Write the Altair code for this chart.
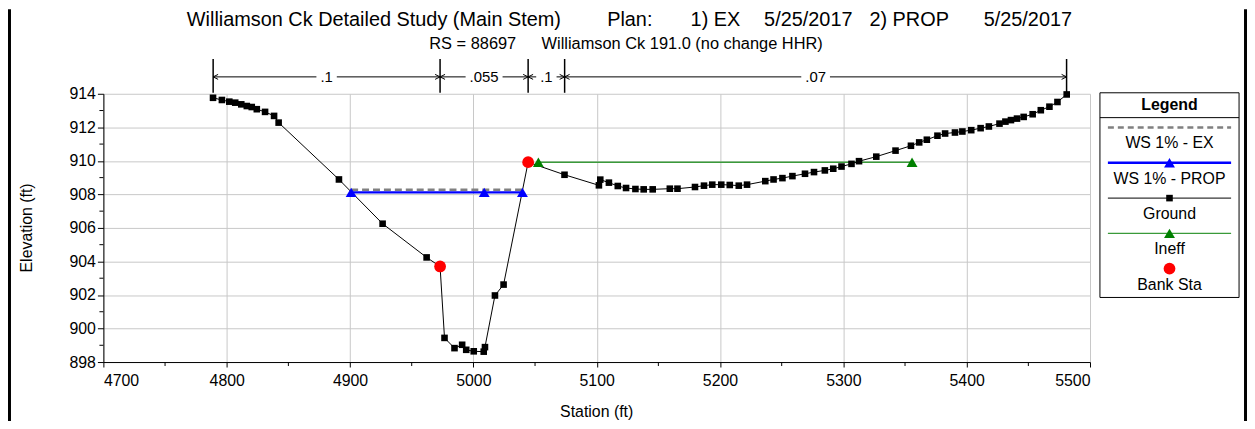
import altair as alt
import pandas as pd

# ---------------- data ----------------
ground_sta = [4788.9, 4796.1, 4802.1, 4806.9, 4811.8, 4816.3, 4820.3, 4824.4, 4831.1, 4838.4,
              4842.1, 4891.0, 4926.4, 4962.1, 4973.0, 4976.6, 4984.7, 4990.9, 4994.2, 5000.3,
              5008.4, 5009.4, 5017.5, 5024.5, 5044.4, 5073.9, 5101.8, 5102.9, 5109.9, 5117.1,
              5123.8, 5131.4, 5138.1, 5145.4, 5159.3, 5165.5, 5179.7, 5187.0, 5193.7, 5201.0,
              5207.9, 5215.2, 5221.9, 5236.7, 5243.4, 5250.6, 5258.7, 5268.9, 5276.2, 5285.0,
              5291.8, 5298.5, 5306.6, 5312.7, 5326.7, 5342.3, 5354.8, 5361.5, 5367.7, 5376.3,
              5382.5, 5390.5, 5396.5, 5403.7, 5411.3, 5418.0, 5426.6, 5431.4, 5435.9, 5440.8,
              5446.2, 5453.5, 5460.1, 5467.1, 5473.6, 5481.1]
ground_elev = [913.76, 913.63, 913.53, 913.47, 913.37, 913.27, 913.21, 913.08, 912.92, 912.68,
               912.28, 908.89, 906.25, 904.24, 903.70, 899.44, 898.83, 899.03, 898.73, 898.64,
               898.62, 898.89, 901.97, 902.62, 909.92, 909.17, 908.54, 908.88, 908.70, 908.50,
               908.38, 908.32, 908.30, 908.30, 908.34, 908.34, 908.44, 908.52, 908.58, 908.58,
               908.56, 908.52, 908.58, 908.79, 908.89, 908.97, 909.09, 909.23, 909.33, 909.43,
               909.53, 909.66, 909.82, 909.98, 910.25, 910.61, 910.90, 911.10, 911.26, 911.50,
               911.63, 911.69, 911.75, 911.83, 911.95, 912.05, 912.22, 912.34, 912.43, 912.52,
               912.62, 912.78, 913.02, 913.23, 913.51, 913.96]
ws_ex_sta = [4900.9, 5040.0]
ws_ex_elev = [908.28, 908.28]
ws_prop_sta = [4900.9, 5008.8, 5039.8]
ws_prop_elev = [908.12, 908.12, 908.12]
ineff_sta = [5052.7, 5355.7]
ineff_elev = [909.92, 909.92]
bank_sta = [4973.0, 5044.4]
bank_elev = [903.70, 909.92]
n_bounds = [4789.0, 4973.0, 5044.4, 5074.0, 5481.0]
n_values = [".1", ".055", ".1", ".07"]
x_ticks = [4700, 4800, 4900, 5000, 5100, 5200, 5300, 5400, 5500]
x_minor = [4750, 4850, 4950, 5050, 5150, 5250, 5350, 5450]
y_ticks = [898, 900, 902, 904, 906, 908, 910, 912, 914]
y_minor = [899, 901, 903, 905, 907, 909, 911, 913]
legend_labels = ["WS 1% - EX", "WS 1% - PROP", "Ground", "Ineff", "Bank Sta"]
title_parts = ["Williamson Ck Detailed Study (Main Stem)", "Plan:", "1) EX", "5/25/2017",
               "2) PROP", "5/25/2017"]
subtitle_parts = ["RS = 88697", "Williamson Ck 191.0 (no change HHR)"]
x_title = "Station (ft)"
y_title = "Elevation (ft)"

# ---------------- layout ----------------
W, H = 993, 270
FONT = "Liberation Sans, Arial, sans-serif"
xs = alt.Scale(domain=[4700, 5500], nice=False, zero=False)
ys = alt.Scale(domain=[898, 914], nice=False, zero=False)
x_axis = alt.Axis(values=x_ticks, format="d", title=None, grid=True, tickSize=5,
                  labelPadding=6, labelFontSize=16)
y_axis = alt.Axis(values=y_ticks, format="d", title=None, grid=True, tickSize=6,
                  labelPadding=2, labelFontSize=16)


def X(field="sta"):
    return alt.X(f"{field}:Q", scale=xs, axis=x_axis)


def Y(field="elev"):
    return alt.Y(f"{field}:Q", scale=ys, axis=y_axis)


ground = pd.DataFrame({"sta": ground_sta, "elev": ground_elev})
ws_ex = pd.DataFrame({"sta": ws_ex_sta, "elev": ws_ex_elev})
ws_prop = pd.DataFrame({"sta": ws_prop_sta, "elev": ws_prop_elev})
ineff = pd.DataFrame({"sta": ineff_sta, "elev": ineff_elev})
bank = pd.DataFrame({"sta": bank_sta, "elev": bank_elev})
dummy = pd.DataFrame({"k": [0]})

BLUE = "#0000ff"
GRAY = "#808080"
GREEN_LINE = "#3a9a3a"
GREEN = "#008000"
RED = "#ff0000"
SQ, TRI, DOT = 44, 120, 140

layers = []

# minor ticks
layers.append(alt.Chart(pd.DataFrame({"elev": y_minor})).mark_rule(color="black", strokeWidth=1)
              .encode(y=Y(), x=alt.value(-4), x2=alt.value(0)))
layers.append(alt.Chart(pd.DataFrame({"sta": x_minor})).mark_rule(color="black", strokeWidth=1)
              .encode(x=X(), y=alt.value(H), y2=alt.value(H + 4)))

# series
layers.append(alt.Chart(ws_ex).mark_line(color=GRAY, strokeWidth=2.5, strokeDash=[7, 4])
              .encode(x=X(), y=Y()))
layers.append(alt.Chart(ineff).mark_line(color=GREEN_LINE, strokeWidth=1.5).encode(x=X(), y=Y()))
layers.append(alt.Chart(ground).mark_line(color="black", strokeWidth=1).encode(x=X(), y=Y()))
layers.append(alt.Chart(ground).mark_point(shape="square", filled=True, color="black", size=SQ, opacity=1)
              .encode(x=X(), y=Y()))
layers.append(alt.Chart(ws_prop).mark_line(color=BLUE, strokeWidth=2.5).encode(x=X(), y=Y()))
layers.append(alt.Chart(ws_prop).mark_point(shape="triangle-up", filled=True, color=BLUE, size=TRI, opacity=1)
              .encode(x=X(), y=Y()))
layers.append(alt.Chart(ineff).mark_point(shape="triangle-up", filled=True, color=GREEN, size=TRI, opacity=1)
              .encode(x=X(), y=Y()))
layers.append(alt.Chart(bank).mark_point(shape="circle", filled=True, color=RED, size=DOT, opacity=1)
              .encode(x=X(), y=Y()))

# Manning's n brackets above the plot
PX_PER_FT = W / 800.0
seg_start = n_bounds[:-1]
seg_end = n_bounds[1:]
seg_mid = [(a + b) / 2 for a, b in zip(seg_start, seg_end)]
half_gap = [(15 * (0.278 * s.count(".") + 0.556 * (len(s) - s.count("."))) / 2 + 4) / PX_PER_FT
            for s in n_values]
left_parts = pd.DataFrame({"sta": seg_start, "sta2": [m - g for m, g in zip(seg_mid, half_gap)]})
right_parts = pd.DataFrame({"sta": [m + g for m, g in zip(seg_mid, half_gap)], "sta2": seg_end})
BR_Y = -17
layers.append(alt.Chart(pd.DataFrame({"sta": n_bounds})).mark_rule(color="black", strokeWidth=1.5)
              .encode(x=X(), y=alt.value(-35), y2=alt.value(-1)))
for part in (left_parts, right_parts):
    layers.append(alt.Chart(part).mark_rule(color="black", strokeWidth=1)
                  .encode(x=X(), x2="sta2:Q", y=alt.value(BR_Y)))
layers.append(alt.Chart(pd.DataFrame({"sta": seg_start}))
              .mark_point(shape="M0,0L2,-1M0,0L2,1", filled=False, color="black", size=25,
                          strokeWidth=1, opacity=1)
              .encode(x=X(), y=alt.value(BR_Y)))
layers.append(alt.Chart(pd.DataFrame({"sta": seg_end}))
              .mark_point(shape="M0,0L-2,-1M0,0L-2,1", filled=False, color="black", size=25,
                          strokeWidth=1, opacity=1)
              .encode(x=X(), y=alt.value(BR_Y)))
layers.append(alt.Chart(pd.DataFrame({"sta": seg_mid, "lab": n_values}))
              .mark_text(fontSize=15, font=FONT, color="black", baseline="middle")
              .encode(x=X(), y=alt.value(BR_Y), text="lab:N"))

# titles
title_x = [84, 507, 591, 665, 771, 886]
for t, xv in zip(title_parts, title_x):
    layers.append(alt.Chart(dummy).mark_text(fontSize=20, font=FONT, align="left", baseline="middle",
                                             color="black", text=t)
                  .encode(x=alt.value(xv), y=alt.value(-74)))
sub_x = [328, 441]
for t, xv in zip(subtitle_parts, sub_x):
    layers.append(alt.Chart(dummy).mark_text(fontSize=16.5, font=FONT, align="left", baseline="middle",
                                             color="black", text=t)
                  .encode(x=alt.value(xv), y=alt.value(-50)))
layers.append(alt.Chart(dummy).mark_text(fontSize=16, font=FONT, align="center", baseline="middle",
                                         color="black", text=x_title)
              .encode(x=alt.value(W / 2), y=alt.value(320)))
layers.append(alt.Chart(dummy).mark_text(fontSize=16, font=FONT, align="center", baseline="middle",
                                         color="black", text=y_title, angle=270)
              .encode(x=alt.value(-77), y=alt.value(H / 2)))

# custom legend box
LX0, LX1, LY0, LY1 = 1003, 1143, -1, 205
LCX = (LX0 + LX1) / 2
layers.append(alt.Chart(dummy).mark_rect(fill="white", stroke="black", strokeWidth=1)
              .encode(x=alt.value(LX0), x2=alt.value(LX1), y=alt.value(LY0), y2=alt.value(LY1)))
layers.append(alt.Chart(dummy).mark_rule(color="black", strokeWidth=1)
              .encode(x=alt.value(LX0), x2=alt.value(LX1), y=alt.value(24)))
layers.append(alt.Chart(dummy).mark_text(fontSize=16, font=FONT, fontWeight="bold", color="black",
                                         baseline="middle", text="Legend")
              .encode(x=alt.value(LCX), y=alt.value(11)))
line_styles = [
    dict(color=GRAY, strokeWidth=2.5, strokeDash=[6, 4]),
    dict(color=BLUE, strokeWidth=2.5),
    dict(color="black", strokeWidth=1),
    dict(color=GREEN_LINE, strokeWidth=1.5),
    None,
]
markers = [None, ("triangle-up", BLUE, TRI), ("square", "black", SQ), ("triangle-up", GREEN, TRI),
           ("circle", RED, DOT)]
for i, lab in enumerate(legend_labels):
    ly = 34 + i * 35.5
    st = line_styles[i]
    if st is not None:
        layers.append(alt.Chart(dummy).mark_rule(**st)
                      .encode(x=alt.value(LX0 + 8), x2=alt.value(LX1 - 8), y=alt.value(ly)))
    mk = markers[i]
    if mk is not None:
        layers.append(alt.Chart(dummy).mark_point(shape=mk[0], filled=True, color=mk[1], size=mk[2], opacity=1)
                      .encode(x=alt.value(LCX), y=alt.value(ly)))
    layers.append(alt.Chart(dummy).mark_text(fontSize=16, font=FONT, color="black", baseline="middle",
                                             text=lab)
                  .encode(x=alt.value(LCX), y=alt.value(ly + 16)))

# outer frame bars
layers.append(alt.Chart(dummy).mark_rule(color="black", strokeWidth=3)
              .encode(x=alt.value(-94.5), y=alt.value(-85), y2=alt.value(H + 60)))
layers.append(alt.Chart(dummy).mark_rule(color="black", strokeWidth=3)
              .encode(x=alt.value(1149.5), y=alt.value(-85), y2=alt.value(H + 60)))

chart = alt.layer(*layers).properties(
    width=W, height=H,
    autosize=alt.AutoSizeParams(type="none"),
    padding={"left": 96, "top": 85, "right": 158, "bottom": 58},
    background="white",
).configure_view(stroke=None).configure_axis(
    labelFont=FONT, labelColor="black", domainColor="black", tickColor="black",
    gridColor="#c8c8c8", gridWidth=1, domainWidth=1, tickWidth=1,
)

chart.save("out.html", embed_options={"renderer": "svg", "actions": False})
